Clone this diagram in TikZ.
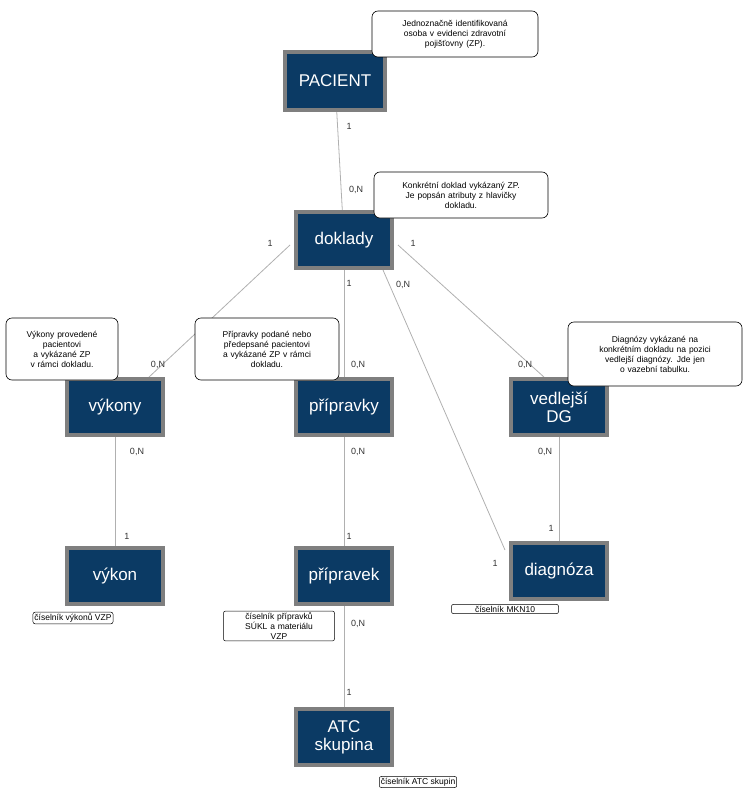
\documentclass[tikz,border=0pt]{standalone}
\usepackage{fontspec}
\setmainfont{Liberation Sans}
\definecolor{ent}{HTML}{0B3A64}
\definecolor{entb}{HTML}{7F7F7F}
\definecolor{ln}{HTML}{B0B0B0}
\begin{document}
\begin{tikzpicture}[x=1pt,y=-1pt,
 ent/.style={draw=entb,line width=3.5pt,fill=ent,text=white,minimum width=96pt,minimum height=56pt,align=center,font=\fontsize{17}{18}\selectfont,inner sep=2pt},
 note/.style={draw=black,fill=white,rounded corners=6pt,align=center,font=\fontsize{8.5}{10}\selectfont,inner sep=3pt,line width=0.6pt},
 tag/.style={draw=black,fill=white,rounded corners=2pt,align=center,font=\fontsize{8.5}{10}\selectfont,inner sep=1.5pt,line width=0.5pt},
 card/.style={font=\fontsize{9}{10}\selectfont,text=black!80},
 rel/.style={draw=ln,line width=0.8pt}]
\useasboundingbox (0,0) rectangle (753,800);
\node[ent,minimum width=100pt,minimum height=58pt] (pac) at (335,81) {PACIENT};
\node[ent] (dok) at (344,240) {doklady};
\node[ent] (vyk) at (115,407) {výkony};
\node[ent] (pri) at (344,407) {přípravky};
\node[ent] (ved) at (559,407) {vedlejší\\DG};
\node[ent] (vy1) at (115,576) {výkon};
\node[ent] (pr1) at (344,576) {přípravek};
\node[ent] (dia) at (559,571) {diagnóza};
\node[ent] (atc) at (344,737) {ATC\\skupina};
\begin{scope}[on background layer/.style={}]
\end{scope}
\draw[rel] (pac) -- (dok);
\draw[rel] (dok.west) ++(0,4) coordinate (d1) ; 
\coordinate (vykt) at (148,378);
\coordinate (vedt) at (545,378);
\coordinate (diat) at (505,550);
\coordinate (dokl) at (290,245);
\coordinate (dokr) at (398,245);
\coordinate (dokb) at (383,270);
\draw[rel] (dokl) -- (vykt);
\draw[rel] (dokr) -- (vedt);
\draw[rel] (dokb) -- (diat);
\draw[rel] (dok) -- (pri);
\draw[rel] (vyk) -- (vy1);
\draw[rel] (pri) -- (pr1);
\draw[rel] (pr1) -- (atc);
\draw[rel] (ved) -- (dia);
% redraw entities on top
\node[ent,minimum width=100pt,minimum height=58pt] at (335,81) {PACIENT};
\node[ent] at (344,240) {doklady};
\node[ent] at (115,407) {výkony};
\node[ent] at (344,407) {přípravky};
\node[ent] at (559,407) {vedlejší\\DG};
\node[ent] at (115,576) {výkon};
\node[ent] at (344,576) {přípravek};
\node[ent] at (559,571) {diagnóza};
\node[ent] at (344,737) {ATC\\skupina};
% cardinalities
\node[card] (c1) at (349,126) {1};
\node[card] (c2) at (356,190) {0,N};
\node[card] (c3) at (270,243) {1};
\node[card] (c4) at (413,243) {1};
\node[card] (c5) at (349,283) {1};
\node[card] (c6) at (403,285) {0,N};
\node[card] (c7) at (158,365) {0,N};
\node[card] (c8) at (358,365) {0,N};
\node[card] (c9) at (525,365) {0,N};
\node[card] (c10) at (137,452) {0,N};
\node[card] (c11) at (358,452) {0,N};
\node[card] (c12) at (545,452) {0,N};
\node[card] (c13) at (127,536) {1};
\node[card] (c14) at (349,536) {1};
\node[card] (c15) at (551,528) {1};
\node[card] (c16) at (495,563) {1};
\node[card] (c17) at (358,624) {0,N};
\node[card] (c18) at (349,692) {1};
% notes
\node[note,text width=160pt,minimum height=46pt] (n1) at (455,34) {Jednoznačně identifikovaná\\osoba v evidenci zdravotní\\pojišťovny (ZP).};
\node[note,text width=168pt,minimum height=46pt] (n2) at (461,195) {Konkrétní doklad vykázaný ZP.\\Je popsán atributy z hlavičky\\dokladu.};
\node[note,text width=106pt,minimum height=62pt] (n3) at (62,349) {Výkony provedené\\pacientovi\\a vykázané ZP\\v rámci dokladu.};
\node[note,text width=138pt,minimum height=62pt] (n4) at (267,349) {Přípravky podané nebo\\předepsané pacientovi\\a vykázané ZP v rámci\\dokladu.};
\node[note,text width=168pt,minimum height=64pt] (n5) at (655,354) {Diagnózy vykázané na\\konkrétním dokladu na pozici\\vedlejší diagnózy. Jde jen\\o vazební tabulku.};
\node[tag] (t1) at (73,618) {číselník výkonů VZP};
\node[tag,text width=108pt] (t2) at (279,626) {číselník přípravků\\SÚKL a materiálu\\VZP};
\node[tag,text width=104pt] (t3) at (505,609) {číselník MKN10};
\node[tag] (t4) at (418,782) {číselník ATC skupin};
\end{tikzpicture}
\end{document}
